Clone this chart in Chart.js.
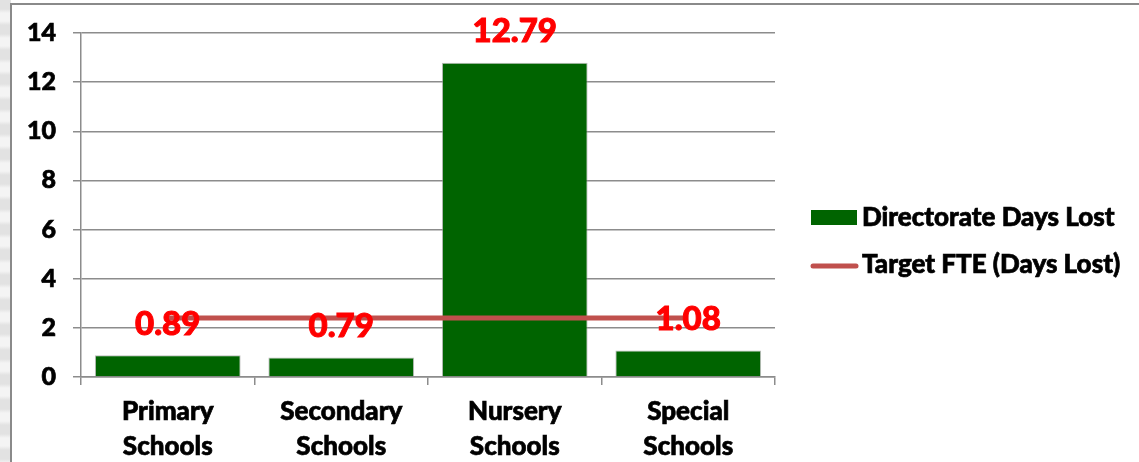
<!DOCTYPE html>
<html>
<head>
<meta charset="utf-8">
<script src="https://cdn.jsdelivr.net/npm/chart.js@4.4.1/dist/chart.umd.min.js"></script>
<style>
	html, body { margin: 0; padding: 0; width: 1139px; height: 462px; overflow: hidden; background: #fff; }
	#strip { position: absolute; left: 0; top: 0; width: 11px; height: 462px;
		background: repeating-linear-gradient(180deg, #e2e2e2 0px, #e2e2e2 9px, #f4f4f4 13px, #f4f4f4 21px, #e2e2e2 25px); }
	#frame { position: absolute; left: 10px; top: 3px; width: 1200px; height: 500px; border: 2px solid #8a8a8a; background: #fff; }
	#wrap { position: absolute; left: 0; top: 0; width: 1139px; height: 462px; }
</style>
</head>
<body>
<div id="strip"></div>
<div id="frame"></div>
<div id="wrap"><canvas id="mycanvas"></canvas></div>
<script>
var categories = [["Primary", "Schools"], ["Secondary", "Schools"], ["Nursery", "Schools"], ["Special", "Schools"]];
var daysLost = [0.89, 0.79, 12.79, 1.08];
var targetFte = [2.4, 2.4, 2.4, 2.4];
var yTicks = [0, 2, 4, 6, 8, 10, 12, 14];

var seriesNames = ["Directorate Days Lost", "Target FTE (Days Lost)"];
var barColor = "#006400";
var lineColor = "#c0504d";
var fontName = "Lato, 'DejaVu Sans', sans-serif";

// red value labels over the bars
var valueLabels = {
	id: "valueLabels",
	afterDatasetsDraw: function(chart) {
		var ctx = chart.ctx;
		var meta = chart.getDatasetMeta(0);
		ctx.save();
		ctx.font = "900 33px " + fontName;
		ctx.fillStyle = "#ff0000";
		ctx.strokeStyle = "#ff0000";
		ctx.lineWidth = 1;
		ctx.textAlign = "center";
		ctx.textBaseline = "middle";
		meta.data.forEach(function(bar, i) {
			var txt = daysLost[i].toFixed(2);
			ctx.fillText(txt, bar.x, bar.y - 31);
			ctx.strokeText(txt, bar.x, bar.y - 31);
		});
		ctx.restore();
	}
};

// legend drawn at the right of the plot
var sideLegend = {
	id: "sideLegend",
	afterDraw: function(chart) {
		var ctx = chart.ctx;
		var x = chart.chartArea.right + 36;
		ctx.save();
		ctx.fillStyle = barColor;
		ctx.fillRect(x, 210, 46, 15);
		ctx.strokeStyle = lineColor;
		ctx.lineWidth = 5;
		ctx.lineCap = "round";
		ctx.beginPath();
		ctx.moveTo(x + 2, 266);
		ctx.lineTo(x + 45, 266);
		ctx.stroke();
		ctx.font = "900 26px " + fontName;
		ctx.fillStyle = "#000";
		ctx.strokeStyle = "#000";
		ctx.lineWidth = 0.7;
		ctx.textAlign = "left";
		ctx.textBaseline = "middle";
		ctx.fillText(seriesNames[0], x + 51, 218);
		ctx.strokeText(seriesNames[0], x + 51, 218);
		ctx.fillText(seriesNames[1], x + 51, 265);
		ctx.strokeText(seriesNames[1], x + 51, 265);
		ctx.restore();
	}
};

var chartdata = {
	labels: categories,
	datasets: [
		{
			type: "bar",
			label: seriesNames[0],
			data: daysLost,
			backgroundColor: barColor,
			borderColor: "rgba(160,160,160,0.7)",
			borderWidth: 1,
			categoryPercentage: 0.84,
			barPercentage: 1,
			order: 2
		},
		{
			type: "line",
			label: seriesNames[1],
			data: targetFte,
			borderColor: lineColor,
			backgroundColor: lineColor,
			borderWidth: 5,
			pointRadius: 0,
			fill: false,
			order: 1
		}
	]
};

var ctx = document.getElementById("mycanvas");

var LineGraph = new Chart(ctx, {
	data: chartdata,
	plugins: [valueLabels, sideLegend],
	options: {
		responsive: true,
		maintainAspectRatio: false,
		animation: false,
		layout: { padding: { left: 0, top: 33, right: 364, bottom: 0 } },
		plugins: {
			legend: { display: false },
			tooltip: { enabled: false }
		},
		scales: {
			x: {
				offset: true,
				grid: { offset: true, drawOnChartArea: false, drawTicks: true, tickLength: 8, color: "#8c8c8c", lineWidth: 1.5 },
				border: { display: true, color: "#8c8c8c", width: 1.5 },
				ticks: {
					color: "#000",
					padding: 9,
					maxRotation: 0,
					textStrokeColor: "#000",
					textStrokeWidth: 0.7,
					font: { family: fontName, size: 26, weight: "900", lineHeight: 1.35 }
				},
				afterFit: function(scale) { scale.height = 85; }
			},
			y: {
				min: 0,
				max: 14,
				afterBuildTicks: function(scale) {
					scale.ticks = yTicks.map(function(v) { return { value: v }; });
				},
				grid: { color: "#8c8c8c", lineWidth: 1.5, tickLength: 8 },
				border: { display: true, color: "#8c8c8c", width: 1.5 },
				ticks: {
					color: "#000",
					padding: 17,
					textStrokeColor: "#000",
					textStrokeWidth: 0.7,
					font: { family: fontName, size: 25, weight: "900" }
				},
				afterFit: function(scale) { scale.width = 81; }
			}
		}
	}
});
</script>
</body>
</html>
